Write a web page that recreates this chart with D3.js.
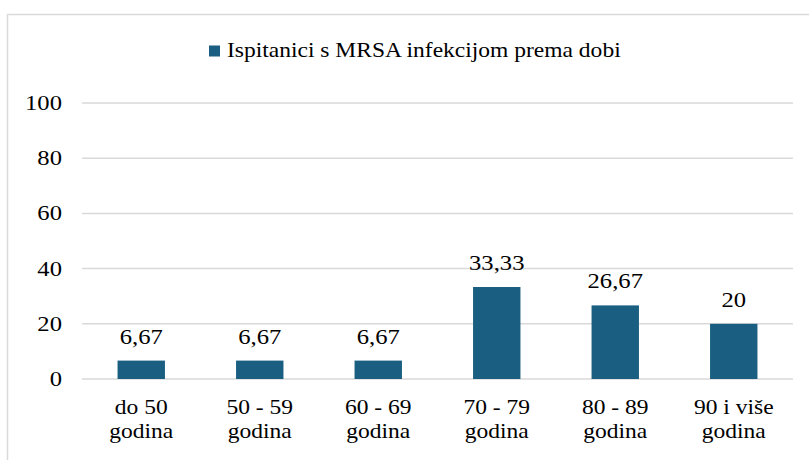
<!DOCTYPE html>
<html>
<head>
<meta charset="utf-8">
<script src="https://cdn.jsdelivr.net/npm/d3@7"></script>
<style>
  body { margin: 0; background: #fff; }
  svg, svg text, svg tspan { font-family: "Liberation Serif" !important; }
</style>
</head>
<body>
<svg id="fig" width="809" height="460" font-family="Liberation Serif"></svg>
<script>
// data
var categories = [['do 50', 'godina'], ['50 - 59', 'godina'], ['60 - 69', 'godina'],
    ['70 - 79', 'godina'], ['80 - 89', 'godina'], ['90 i više', 'godina']]
var values = [6.67, 6.67, 6.67, 33.33, 26.67, 20]
var valueLabels = ['6,67', '6,67', '6,67', '33,33', '26,67', '20']
var yTicks = [0, 20, 40, 60, 80, 100]
var seriesName = 'Ispitanici s MRSA infekcijom prema dobi'

var color = '#1a5f81'
var font = '"Liberation Serif"'
var stretch = 1.12 // the source text is a bit wider than it is tall

var margin = { top: 103, right: 16, bottom: 81, left: 82 },
    width = 809 - margin.left - margin.right,
    height = 460 - margin.top - margin.bottom

var svg = d3.select('#fig')

// outer chart border (runs off right and bottom)
svg.append('rect')
    .attr('x', 7.5).attr('y', 14.5)
    .attr('width', 820).attr('height', 470)
    .attr('fill', 'none')
    .attr('stroke', '#d9d9d9')
    .attr('stroke-width', 1.5)

var g = svg.append('g')
    .attr('transform', 'translate(' + margin.left + ',' + margin.top + ')')

var x = d3.scaleBand()
    .domain(d3.range(categories.length))
    .range([0, width])
    .paddingInner(0.6)
    .paddingOuter(0.3)

var y = d3.scaleLinear().domain([0, 100]).range([height, 0])

// gridlines
g.selectAll('.grid')
    .data(yTicks).enter()
    .append('line')
    .attr('x1', 0).attr('x2', width)
    .attr('y1', function (d) { return y(d) })
    .attr('y2', function (d) { return y(d) })
    .attr('stroke', '#d9d9d9')
    .attr('stroke-width', 1.5)

// y tick labels
g.selectAll('.ytick')
    .data(yTicks).enter()
    .append('text')
    .attr('font-family', 'Liberation Serif')
    .attr('text-anchor', 'end')
    .style('font-family', font)
    .style('font-size', '22px')
    .attr('transform', function (d) {
        return 'translate(-20,' + (y(d) + 7) + ') scale(' + stretch + ',1)'
    })
    .text(function (d) { return d })

// bars
g.selectAll('.bar')
    .data(values).enter()
    .append('rect')
    .attr('x', function (d, i) { return x(i) })
    .attr('width', x.bandwidth())
    .attr('y', function (d) { return y(d) })
    .attr('height', function (d) { return height - y(d) })
    .attr('fill', color)

// value labels
g.selectAll('.val')
    .data(values).enter()
    .append('text')
    .attr('font-family', 'Liberation Serif')
    .attr('text-anchor', 'middle')
    .style('font-family', font)
    .style('font-size', '22px')
    .attr('transform', function (d, i) {
        return 'translate(' + (x(i) + x.bandwidth() / 2) + ',' + (y(d) - 17) + ') scale(' + stretch + ',1)'
    })
    .text(function (d, i) { return valueLabels[i] })

// category labels, two lines each
var cat = g.selectAll('.cat')
    .data(categories).enter()
    .append('text')
    .attr('font-family', 'Liberation Serif')
    .attr('text-anchor', 'middle')
    .style('font-family', font)
    .style('font-size', '21px')
    .attr('transform', function (d, i) {
        return 'translate(' + (x(i) + x.bandwidth() / 2) + ',' + (height + 35) + ') scale(' + stretch + ',1)'
    })
cat.append('tspan').attr('x', 0).attr('y', 0).text(function (d) { return d[0] })
cat.append('tspan').attr('x', 0).attr('y', 24).text(function (d) { return d[1] })

// legend
var legend = svg.append('g')
legend.append('rect')
    .attr('x', 209).attr('y', 45.5)
    .attr('width', 11).attr('height', 11)
    .attr('fill', color)
legend.append('text')
    .attr('font-family', 'Liberation Serif')
    .style('font-family', font)
    .style('font-size', '21px')
    .attr('transform', 'translate(227,57) scale(' + stretch + ',1)')
    .text(seriesName)
</script>
</body>
</html>
